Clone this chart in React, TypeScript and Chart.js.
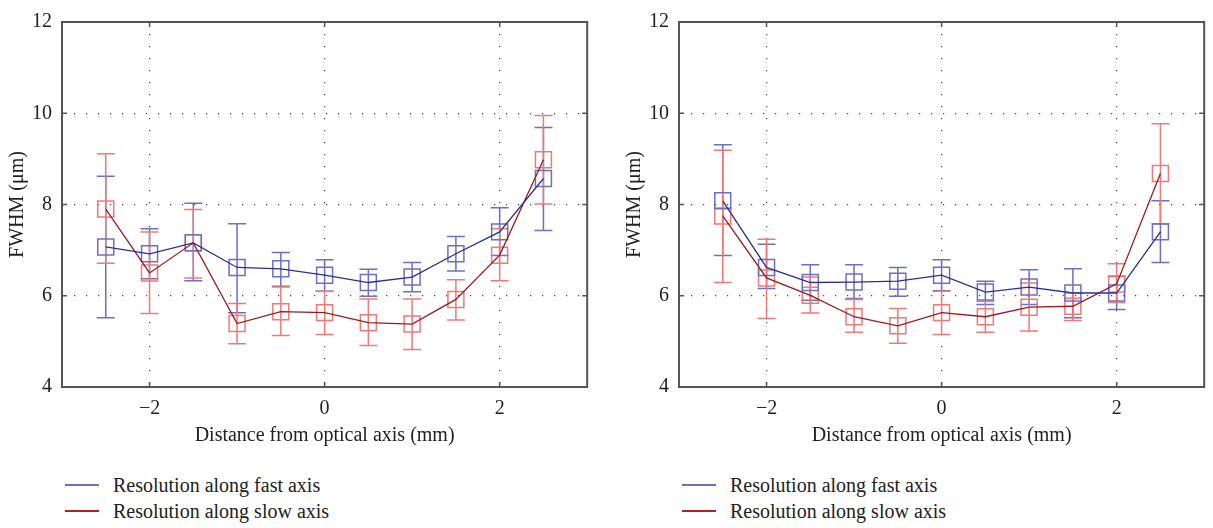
import React, { useEffect, useRef } from "react";
import { Chart, registerables } from "chart.js";

Chart.register(...registerables);

const xPositions = [-2.5, -2, -1.5, -1, -0.5, 0, 0.5, 1, 1.5, 2, 2.5];
const xTickValues = [-2, 0, 2];
const yTickValues = [4, 6, 8, 10, 12];

// Left panel
const leftFast = [7.07, 6.92, 7.16, 6.62, 6.59, 6.45, 6.29, 6.41, 6.92, 7.40, 8.57];
const leftFastLow = [5.52, 6.37, 6.33, 5.63, 6.21, 6.10, 5.99, 6.09, 6.54, 6.88, 7.43];
const leftFastHigh = [8.62, 7.47, 8.03, 7.58, 6.95, 6.79, 6.58, 6.73, 7.30, 7.93, 9.69];
const leftSlow = [7.90, 6.50, 7.16, 5.39, 5.65, 5.63, 5.41, 5.38, 5.92, 6.89, 8.98];
const leftSlowLow = [6.71, 5.61, 6.39, 4.95, 5.13, 5.15, 4.91, 4.82, 5.47, 6.33, 8.01];
const leftSlowHigh = [9.11, 7.40, 7.89, 5.83, 6.19, 6.10, 5.93, 5.93, 6.35, 7.47, 9.95];

// Right panel
const rightFast = [8.08, 6.62, 6.29, 6.30, 6.32, 6.45, 6.08, 6.19, 6.06, 6.06, 7.40];
const rightFastLow = [6.88, 6.16, 5.90, 5.94, 5.99, 6.11, 5.81, 5.81, 5.52, 5.70, 6.73];
const rightFastHigh = [9.31, 7.13, 6.68, 6.68, 6.62, 6.79, 6.32, 6.57, 6.59, 6.42, 8.08];
const rightSlow = [7.75, 6.39, 6.01, 5.54, 5.34, 5.63, 5.54, 5.75, 5.77, 6.26, 8.68];
const rightSlowLow = [6.29, 5.50, 5.62, 5.20, 4.96, 5.15, 5.20, 5.23, 5.46, 5.85, 7.58];
const rightSlowHigh = [9.19, 7.24, 6.41, 5.92, 5.72, 6.10, 5.88, 6.28, 6.06, 6.70, 9.77];

const seriesLabels = ["Resolution along fast axis", "Resolution along slow axis"];
const xTitle = "Distance from optical axis (mm)";
const yTitle = "FWHM (μm)";

const FAST_LINE = "#2b3090";
const FAST_LIGHT = "#6b70bf";
const SLOW_LINE = "#9b1b1b";
const SLOW_LIGHT = "#f27878";
const FONT = "'Liberation Serif', 'DejaVu Serif', serif";
const FS = 20;

const fmt = (v: number) => (v < 0 ? "\u2212" + Math.abs(v) : String(v));

const framePlugin = {
  id: "frameAndErrors",
  beforeDatasetsDraw(chart: any) {
    const { ctx } = chart;
    const xs = chart.scales.x;
    const ys = chart.scales.y;
    const errs = chart.options.plugins.frameAndErrors.series;
    ctx.save();
    ctx.lineWidth = 1.5;
    for (const s of errs) {
      ctx.strokeStyle = s.color;
      for (let i = 0; i < xPositions.length; i++) {
        const px = xs.getPixelForValue(xPositions[i]);
        const pl = ys.getPixelForValue(s.low[i]);
        const ph = ys.getPixelForValue(s.high[i]);
        ctx.beginPath();
        ctx.moveTo(px, pl);
        ctx.lineTo(px, ph);
        ctx.moveTo(px - 9, pl);
        ctx.lineTo(px + 9, pl);
        ctx.moveTo(px - 9, ph);
        ctx.lineTo(px + 9, ph);
        ctx.stroke();
      }
    }
    ctx.restore();
  },
  afterDraw(chart: any) {
    const { ctx, chartArea: a } = chart;
    const xs = chart.scales.x;
    const ys = chart.scales.y;
    ctx.save();
    ctx.strokeStyle = "#555";
    ctx.lineWidth = 2;
    ctx.strokeRect(a.left, a.top, a.right - a.left, a.bottom - a.top);
    ctx.lineWidth = 1.5;
    ctx.beginPath();
    for (const v of xTickValues) {
      const px = xs.getPixelForValue(v);
      ctx.moveTo(px, a.bottom);
      ctx.lineTo(px, a.bottom - 5);
      ctx.moveTo(px, a.top);
      ctx.lineTo(px, a.top + 5);
    }
    for (const v of yTickValues) {
      const py = ys.getPixelForValue(v);
      ctx.moveTo(a.left, py);
      ctx.lineTo(a.left + 5, py);
      ctx.moveTo(a.right, py);
      ctx.lineTo(a.right - 5, py);
    }
    ctx.stroke();
    ctx.restore();
  },
};

function makeConfig(
  fast: number[], fastLow: number[], fastHigh: number[],
  slow: number[], slowLow: number[], slowHigh: number[]
): any {
  const pts = (arr: number[]) => xPositions.map((x, i) => ({ x, y: arr[i] }));
  return {
    type: "line",
    data: {
      datasets: [
        { label: seriesLabels[0], data: pts(fast), borderColor: FAST_LINE, borderWidth: 1.3, pointRadius: 0, fill: false, tension: 0 },
        { label: seriesLabels[1], data: pts(slow), borderColor: SLOW_LINE, borderWidth: 1.3, pointRadius: 0, fill: false, tension: 0 },
        { label: "fast markers", data: pts(fast), showLine: false, pointStyle: "rect", pointRadius: 11.3, pointBorderWidth: 1.5, pointBorderColor: FAST_LIGHT, pointBackgroundColor: "rgba(0,0,0,0)", borderColor: FAST_LIGHT, backgroundColor: "rgba(0,0,0,0)" },
        { label: "slow markers", data: pts(slow), showLine: false, pointStyle: "rect", pointRadius: 11.3, pointBorderWidth: 1.5, pointBorderColor: SLOW_LIGHT, pointBackgroundColor: "rgba(0,0,0,0)", borderColor: SLOW_LIGHT, backgroundColor: "rgba(0,0,0,0)" },
      ],
    },
    options: {
      animation: false,
      responsive: false,
      maintainAspectRatio: false,
      layout: { padding: { left: 0, right: 9, top: 17, bottom: 0 } },
      plugins: {
        legend: { display: false },
        tooltip: { enabled: false },
        frameAndErrors: {
          series: [
            { color: FAST_LIGHT, low: fastLow, high: fastHigh },
            { color: SLOW_LIGHT, low: slowLow, high: slowHigh },
          ],
        },
      },
      scales: {
        x: {
          type: "linear",
          min: -3,
          max: 3,
          afterBuildTicks: (s: any) => { s.ticks = xTickValues.map((v) => ({ value: v })); },
          afterFit: (s: any) => { s.height = 73; },
          ticks: { callback: (v: any) => fmt(Number(v)), font: { family: FONT, size: FS }, color: "#222", padding: 10, maxRotation: 0 },
          grid: { color: "#444", lineWidth: 1.2, drawTicks: false },
          border: { display: false, dash: [1.2, 10.8] },
          title: { display: true, text: xTitle, font: { family: FONT, size: FS }, color: "#222", padding: { top: 0, bottom: 12 } },
        },
        y: {
          type: "linear",
          min: 4,
          max: 12,
          afterBuildTicks: (s: any) => { s.ticks = yTickValues.map((v) => ({ value: v })); },
          afterFit: (s: any) => { s.width = 62; },
          ticks: { callback: (v: any) => fmt(Number(v)), font: { family: FONT, size: FS }, color: "#222", padding: 10 },
          grid: { color: (c: any) => (c.tick && (c.tick.value === 4 || c.tick.value === 12) ? "rgba(0,0,0,0)" : "#444"), lineWidth: 1.2, drawTicks: false },
          border: { display: false, dash: [1.2, 10.8] },
          title: { display: true, text: yTitle, font: { family: FONT, size: FS }, color: "#222", padding: { top: 6, bottom: 0 } },
        },
      },
    },
    plugins: [framePlugin],
  };
}

function Panel(props: { left: number; config: any; legendLeft: number }) {
  const ref = useRef<HTMLCanvasElement | null>(null);
  useEffect(() => {
    if (!ref.current) return;
    const chart = new Chart(ref.current, props.config);
    return () => chart.destroy();
  }, []);
  const legendRow = (color: string, text: string, top: number) => (
    <div style={{ position: "absolute", left: props.legendLeft, top, height: 26, display: "flex", alignItems: "center" }}>
      <div style={{ width: 34, height: 2, background: color, marginRight: 14 }} />
      <span style={{ fontFamily: FONT, fontSize: FS, color: "#222", whiteSpace: "nowrap", lineHeight: "26px" }}>{text}</span>
    </div>
  );
  return (
    <>
      <canvas ref={ref} width={600} height={460} style={{ position: "absolute", left: props.left, top: 0, width: 600, height: 460 }} />
      {legendRow("#6e72b4", seriesLabels[0], 472)}
      {legendRow("#b42020", seriesLabels[1], 498)}
    </>
  );
}

export default function App() {
  const leftConfig = makeConfig(leftFast, leftFastLow, leftFastHigh, leftSlow, leftSlowLow, leftSlowHigh);
  const rightConfig = makeConfig(rightFast, rightFastLow, rightFastHigh, rightSlow, rightSlowLow, rightSlowHigh);
  return (
    <div style={{ position: "fixed", left: 0, top: 0, width: 1213, height: 528, background: "#fff", overflow: "hidden" }}>
      <Panel left={0} config={leftConfig} legendLeft={65} />
      <Panel left={617} config={rightConfig} legendLeft={682} />
    </div>
  );
}
